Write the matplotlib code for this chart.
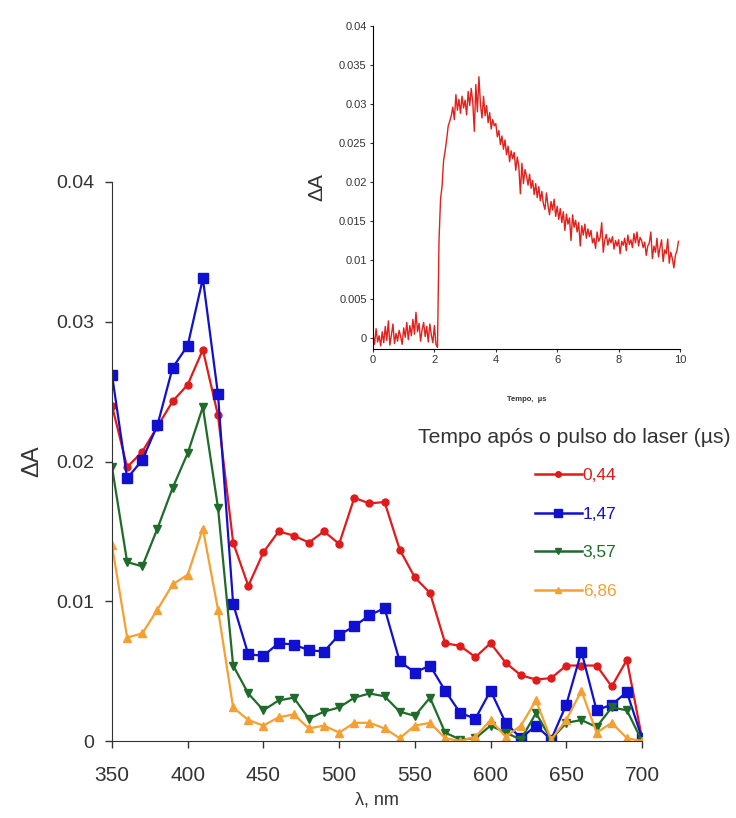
import numpy as np
import matplotlib
matplotlib.use("Agg")
import matplotlib.pyplot as plt
from matplotlib.lines import Line2D

plt.rcParams['font.family'] = ['Liberation Sans', 'DejaVu Sans']

# transient absorption spectra (delta A vs wavelength)
wavelength = np.arange(350, 701, 10)

da_044 = [0.0240, 0.0196, 0.0207, 0.0225, 0.0243, 0.0255, 0.0280, 0.0233, 0.0142, 0.0111,
          0.0135, 0.0150, 0.0147, 0.0142, 0.0150, 0.0141, 0.0174, 0.0170, 0.0171, 0.0137,
          0.0117, 0.0106, 0.0070, 0.0068, 0.0060, 0.0070, 0.0056, 0.0047, 0.0044, 0.0045,
          0.0054, 0.0054, 0.0054, 0.0039, 0.0058, 0.0002]
da_147 = [0.0262, 0.0188, 0.0201, 0.0226, 0.0267, 0.0283, 0.0331, 0.0248, 0.0098, 0.0062,
          0.0061, 0.0070, 0.0069, 0.0065, 0.0064, 0.0076, 0.0082, 0.0090, 0.0095, 0.0057,
          0.0049, 0.0054, 0.0036, 0.0020, 0.0016, 0.0036, 0.0013, 0.0002, 0.0011, 0.0001,
          0.0026, 0.0064, 0.0022, 0.0026, 0.0035, 0.0002]
da_357 = [0.0196, 0.0128, 0.0125, 0.0152, 0.0181, 0.0206, 0.0239, 0.0167, 0.0054, 0.0034,
          0.0022, 0.0029, 0.0031, 0.0016, 0.0021, 0.0024, 0.0031, 0.0034, 0.0032, 0.0021,
          0.0018, 0.0031, 0.0006, 0.0001, 0.0002, 0.0011, 0.0006, 0.0001, 0.0020, 0.0001,
          0.0013, 0.0015, 0.0010, 0.0024, 0.0022, 0.0000]
da_686 = [0.0140, 0.0074, 0.0077, 0.0094, 0.0112, 0.0119, 0.0152, 0.0094, 0.0024, 0.0015,
          0.0011, 0.0017, 0.0019, 0.0009, 0.0011, 0.0006, 0.0013, 0.0013, 0.0009, 0.0002,
          0.0011, 0.0013, 0.0002, 0.0000, 0.0003, 0.0015, 0.0003, 0.0011, 0.0029, 0.0001,
          0.0015, 0.0036, 0.0006, 0.0013, 0.0002, 0.0000]

labels = ["0,44", "1,47", "3,57", "6,86"]

# kinetic trace, delta A in units of 1e-3, sampled every 0.05 us
trace_time = np.arange(200) * 0.05
trace_mda = [
    0.5, -0.8, 1.2, -0.5, 0.3, -1.0, 0.8, -0.6, 1.5, -0.3, 2.2, -0.9, 0.4, 1.8, -0.7, 0.6, -0.4, 1.0, 0.2, -0.8,
    1.3, 0.1, 2.0, -0.2, 1.6, 0.3, 2.4, 0.5, 3.3, 0.8, 1.9, -0.4, 1.1, 2.0, 0.2, 1.5, -0.5, 1.8, 0.4, -0.6,
    1.6, -0.8, -1.2, 12.5, 17.8, 19.5, 22.8, 24.0, 25.5, 27.2, 27.8, 28.5, 29.6, 28.0, 31.2, 29.2, 30.6, 28.8, 31.0, 29.5,
    30.5, 28.6, 31.6, 29.8, 32.0, 30.2, 26.5, 32.5, 29.0, 33.5, 30.0, 28.2, 31.0, 28.5, 29.8, 27.6, 28.9, 26.8, 28.0, 27.2,
    27.5, 25.8, 26.6, 24.8, 25.9, 24.2, 25.4, 23.5, 24.6, 22.6, 24.0, 23.0, 23.8, 21.5, 23.2, 22.0, 18.5, 22.4, 19.8, 21.6,
    20.8, 19.6, 21.0, 19.2, 20.2, 18.4, 19.8, 18.0, 19.4, 17.6, 18.8, 17.2, 16.5, 18.6, 17.0, 15.8, 17.5, 16.4, 17.8, 15.6,
    16.9, 15.2, 16.6, 14.8, 16.2, 13.8, 15.9, 14.6, 15.4, 12.5, 15.8, 14.2, 15.1, 13.6, 14.8, 11.8, 14.4, 13.2, 14.6, 12.8,
    14.0, 13.0, 13.8, 12.2, 12.8, 11.5, 13.6, 12.4, 12.9, 14.8, 11.0, 12.6, 13.3, 11.9, 12.8, 12.2, 13.0, 11.4, 12.5, 11.8,
    12.6, 10.8, 12.4, 11.9, 12.8, 11.2, 13.2, 12.0, 12.6, 11.6, 13.4, 12.2, 13.6, 11.8, 12.9, 12.5, 11.6, 12.3, 10.6, 11.8,
    12.2, 13.6, 10.2, 11.8, 11.0, 12.8, 10.4, 11.6, 12.6, 9.8, 11.3, 10.8, 12.7, 9.6, 11.0, 10.2, 9.0, 10.6, 11.2, 12.4,
]
trace_da = np.array(trace_mda) / 1000.0

colors = ["#e01b1b", "#1010d0", "#1e6b2a", "#f5a030"]
markers = ["o", "s", "v", "^"]
msizes = [5, 6.5, 5.5, 5.5]
text_grey = '#333333'

fig = plt.figure(figsize=(7.36, 8.18), dpi=100)

ax = fig.add_axes([112 / 736, 1 - 741 / 818, 530 / 736, 559 / 818])
series = [da_044, da_147, da_357, da_686]
for vals, c, m, ms in zip(series, colors, markers, msizes):
    ax.plot(wavelength, vals, color=c, marker=m, markersize=ms, linewidth=1.6)

ax.set_xlim(350, 700)
ax.set_ylim(0, 0.04)
ax.set_xticks(np.arange(350, 701, 50))
ax.set_yticks([0, 0.01, 0.02, 0.03, 0.04])
ax.set_yticklabels(["0", "0.01", "0.02", "0.03", "0.04"])
ax.tick_params(direction='out', length=5, width=1, colors=text_grey)
ax.tick_params(axis='x', labelsize=15, pad=13)
ax.tick_params(axis='y', labelsize=14, pad=8)
for s in ['top', 'right']:
    ax.spines[s].set_visible(False)
for s in ['left', 'bottom']:
    ax.spines[s].set_color(text_grey)
ax.set_xlabel("λ, nm", fontsize=13, labelpad=5, color=text_grey)
ax.set_ylabel("ΔA", fontsize=17, labelpad=9, color=text_grey)

# legend
handles = [Line2D([], [], color=c, marker=m, markersize=ms * 0.8, linewidth=1.8)
           for c, m, ms in zip(colors, markers, msizes)]
leg = ax.legend(handles, labels, loc='upper left',
                bbox_to_anchor=(535 / 736, 1 - 468 / 818), bbox_transform=fig.transFigure,
                frameon=False, borderpad=0, borderaxespad=0,
                handlelength=2.7, handletextpad=0.05,
                labelspacing=1.35, fontsize=12.5)
for txt, c in zip(leg.get_texts(), colors):
    txt.set_color(c)
fig.text(574 / 736, 1 - 437 / 818, "Tempo após o pulso do laser (µs)", fontsize=15.2,
         ha='center', va='center', color=text_grey)

# inset: kinetic trace
ins = fig.add_axes([373 / 736, 1 - 349 / 818, 307 / 736, 323 / 818])
ins.plot(trace_time, trace_da, color="#e3201b", linewidth=1.0)
ins.set_xlim(0, 10)
ins.set_ylim(-0.0014, 0.04)
ins.set_xticks([0, 2, 4, 6, 8, 10])
ins.set_yticks([0, 0.005, 0.01, 0.015, 0.02, 0.025, 0.03, 0.035, 0.04])
ins.set_yticklabels(["0", "0.005", "0.01", "0.015", "0.02", "0.025", "0.03", "0.035", "0.04"])
ins.tick_params(direction='out', length=2.5, width=0.8, labelsize=8, colors=text_grey, pad=2)
for s in ['top', 'right']:
    ins.spines[s].set_visible(False)
ins.set_ylabel("ΔA", fontsize=15, labelpad=9, color=text_grey)
ins.set_xlabel("Tempo,  µs", fontsize=5.5, fontweight='bold', labelpad=22, color=text_grey)

fig.savefig("out.png", dpi=100)
